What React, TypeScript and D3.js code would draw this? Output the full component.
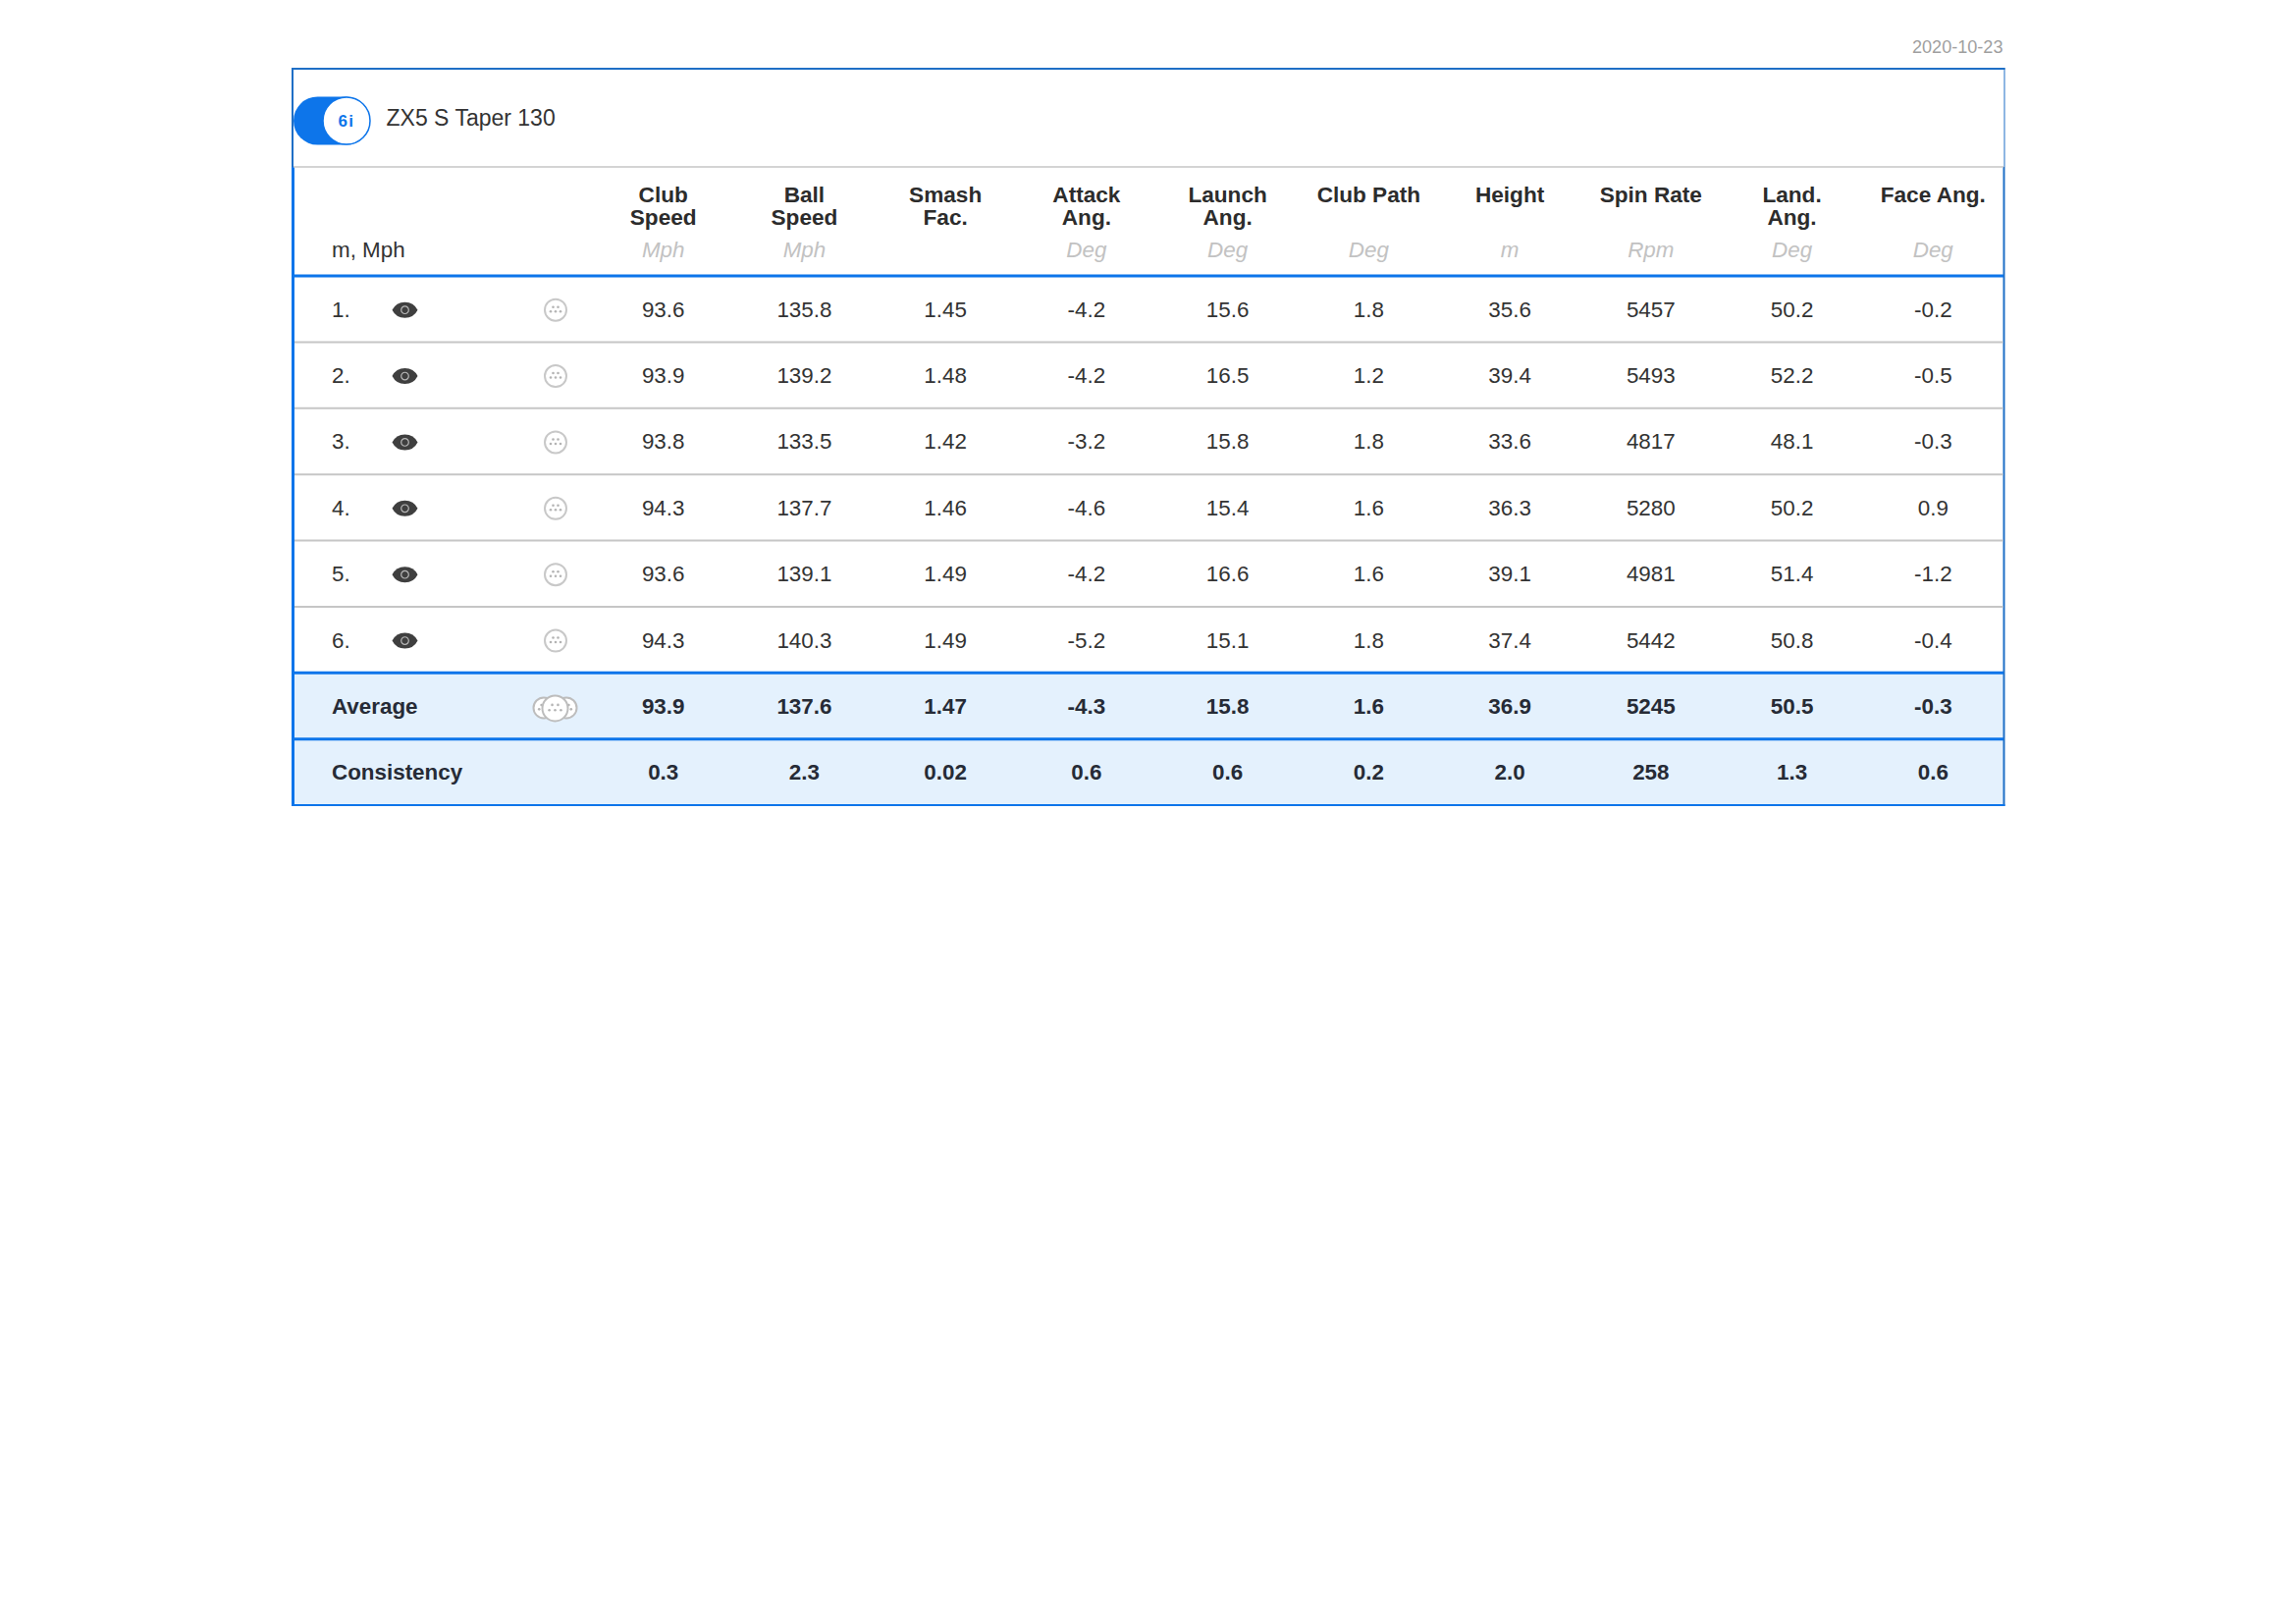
import * as d3 from "d3";

const dateLabel = "2020-10-23";
const clubName = "ZX5 S Taper 130";
const clubTag = "6i";
const unitsLabel = "m, Mph";

const headers = [
  ["Club", "Speed"],
  ["Ball", "Speed"],
  ["Smash", "Fac."],
  ["Attack", "Ang."],
  ["Launch", "Ang."],
  ["Club Path"],
  ["Height"],
  ["Spin Rate"],
  ["Land.", "Ang."],
  ["Face Ang."],
];
const units = ["Mph", "Mph", "", "Deg", "Deg", "Deg", "m", "Rpm", "Deg", "Deg"];

const shots = ["1.", "2.", "3.", "4.", "5.", "6."];
const shotValues = [
  ["93.6", "135.8", "1.45", "-4.2", "15.6", "1.8", "35.6", "5457", "50.2", "-0.2"],
  ["93.9", "139.2", "1.48", "-4.2", "16.5", "1.2", "39.4", "5493", "52.2", "-0.5"],
  ["93.8", "133.5", "1.42", "-3.2", "15.8", "1.8", "33.6", "4817", "48.1", "-0.3"],
  ["94.3", "137.7", "1.46", "-4.6", "15.4", "1.6", "36.3", "5280", "50.2", "0.9"],
  ["93.6", "139.1", "1.49", "-4.2", "16.6", "1.6", "39.1", "4981", "51.4", "-1.2"],
  ["94.3", "140.3", "1.49", "-5.2", "15.1", "1.8", "37.4", "5442", "50.8", "-0.4"],
];
const averageValues = ["93.9", "137.6", "1.47", "-4.3", "15.8", "1.6", "36.9", "5245", "50.5", "-0.3"];
const consistencyValues = ["0.3", "2.3", "0.02", "0.6", "0.6", "0.2", "2.0", "258", "1.3", "0.6"];

const BLUE = "#0d75ea";
const DARKBLUE = "#1f6fc6";
const GREY = "#c6c6c6";
const TEXT = "#333333";
const FONT = "'Liberation Sans', Arial, sans-serif";

// columns and rows
const x = d3.scalePoint<number>().domain(d3.range(10)).range([675.7, 1969.3]);
const rowKeys = [...shots, "Average", "Consistency"];
const y = d3.scaleBand<string>().domain(rowKeys).range([281, 820]);
const rowH = y.bandwidth();
const mid = (k: string) => (y(k) as number) + rowH / 2;

const LEFT = 298;
const RIGHT = 2042;

const Eye = ({ cx, cy }: { cx: number; cy: number }) => (
  <g transform={`translate(${cx},${cy})`}>
    <path d="M-13,0 Q-9,-8 0,-8 Q9,-8 13,0 Q9,8 0,8 Q-9,8 -13,0Z" fill="#3f3f3f" />
    <circle r={3.8} fill="none" stroke="#b8b8b8" strokeWidth={1.2} />
  </g>
);

const dotsFor = [
  [-2.5, -3],
  [2.5, -3],
  [-5, 1.5],
  [0, 1.5],
  [5, 1.5],
];

const Face = ({ cx, cy, r = 11, stroke = "#c8c8c8" }: { cx: number; cy: number; r?: number; stroke?: string }) => (
  <g transform={`translate(${cx},${cy})`}>
    <circle r={r} fill="#fff" stroke={stroke} strokeWidth={2} />
    {dotsFor.map(([a, b], i) => (
      <circle key={i} cx={(a * r) / 11} cy={(b * r) / 11} r={1.3} fill="#b4b4b4" />
    ))}
  </g>
);

export default function App() {
  return (
    <svg
      width={2339}
      height={1653}
      style={{ position: "absolute", left: 0, top: 0, background: "#fff" }}
      fontFamily={FONT}
      fontSize={22.4}
      fill={TEXT}
    >
      <text x={2040.5} y={54} textAnchor="end" fontSize={18.1} fill="#9f9f9f">
        {dateLabel}
      </text>

      {/* Average and Consistency background */}
      <rect x={LEFT} y={y("Average")} width={RIGHT - LEFT} height={rowH * 2} fill="#e4f1fd" />

      {/* frame */}
      <line x1={297.5} x2={2042.5} y1={70} y2={70} stroke={DARKBLUE} strokeWidth={2} />
      <line x1={298} x2={298} y1={69} y2={170} stroke={DARKBLUE} strokeWidth={2} />
      <line x1={2042} x2={2042} y1={69} y2={170} stroke={DARKBLUE} strokeWidth={1} />
      <line x1={298.5} x2={298.5} y1={170} y2={821} stroke={BLUE} strokeWidth={3} />
      <line x1={2041.5} x2={2041.5} y1={170} y2={821} stroke={DARKBLUE} strokeWidth={2} />
      <line x1={299} x2={2041} y1={170} y2={170} stroke={GREY} strokeWidth={1.5} />

      {/* club toggle */}
      <rect x={299} y={98.5} width={78} height={49} rx={24.5} fill={BLUE} />
      <circle cx={353} cy={123} r={24} fill="#fff" stroke={BLUE} strokeWidth={1.5} />
      <text x={353} y={129} textAnchor="middle" fontSize={17} fontWeight="bold" fill={BLUE} letterSpacing={1.5}>
        {clubTag}
      </text>
      <text x={393.5} y={128} fontSize={23}>
        {clubName}
      </text>

      {/* header */}
      <text x={338} y={262}>
        {unitsLabel}
      </text>
      {headers.map((lines, c) => (
        <g key={c} textAnchor="middle">
          {lines.map((l, i) => (
            <text key={l} x={x(c)} y={206 + i * 23} fontSize={22.6} fontWeight="bold" fill="#2c2c2c">
              {l}
            </text>
          ))}
          <text x={x(c)} y={262} fontStyle="italic" fill="#c2c2c2">
            {units[c]}
          </text>
        </g>
      ))}

      {/* shot rows */}
      {shots.map((s, r) => (
        <g key={s}>
          <text x={338} y={mid(s) + 8}>
            {s}
          </text>
          <Eye cx={412.5} cy={mid(s) + 1} />
          <Face cx={566} cy={mid(s) + 1} />
          {shotValues[r].map((v, c) => (
            <text key={c} x={x(c)} y={mid(s) + 8} textAnchor="middle">
              {v}
            </text>
          ))}
          {r < shots.length - 1 && (
            <line x1={300} x2={2040.5} y1={(y(s) as number) + rowH} y2={(y(s) as number) + rowH} stroke={GREY} strokeWidth={2} />
          )}
        </g>
      ))}

      {/* summary rows */}
      <text x={338} y={mid("Average") + 8} fontWeight="bold" fill="#262b36">
        Average
      </text>
      <Face cx={554} cy={mid("Average") + 2} r={10.5} stroke="#bdbdbd" />
      <Face cx={577} cy={mid("Average") + 2} r={10.5} stroke="#bdbdbd" />
      <Face cx={565.5} cy={mid("Average") + 2.5} r={13} stroke="#bdbdbd" />
      {averageValues.map((v, c) => (
        <text key={c} x={x(c)} y={mid("Average") + 8} textAnchor="middle" fontWeight="bold" fill="#262b36">
          {v}
        </text>
      ))}
      <text x={338} y={mid("Consistency") + 8} fontWeight="bold" fill="#262b36">
        Consistency
      </text>
      {consistencyValues.map((v, c) => (
        <text key={c} x={x(c)} y={mid("Consistency") + 8} textAnchor="middle" fontWeight="bold" fill="#262b36">
          {v}
        </text>
      ))}

      {/* blue rules */}
      {[281, y("Average") as number, y("Consistency") as number].map((v) => (
        <line key={v} x1={299} x2={2041} y1={v} y2={v} stroke={BLUE} strokeWidth={3} />
      ))}
      <line x1={297.5} x2={2042.5} y1={820} y2={820} stroke={BLUE} strokeWidth={2} />
    </svg>
  );
}
